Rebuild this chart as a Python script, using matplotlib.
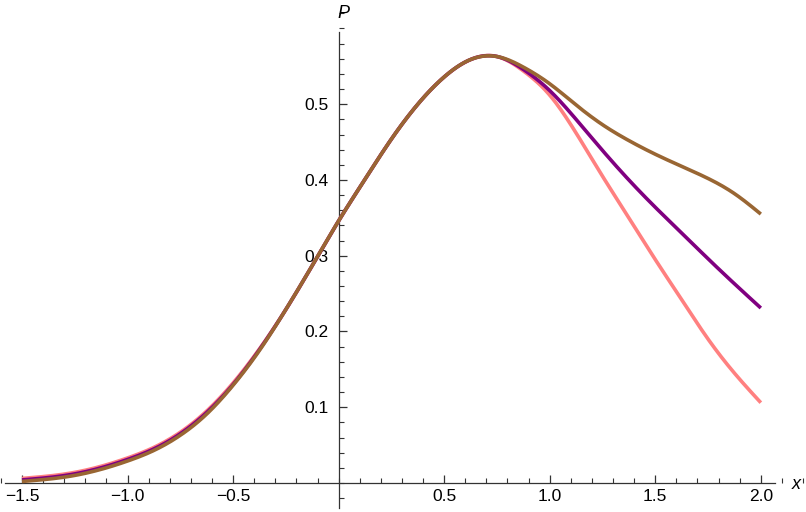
import numpy as np
import matplotlib
matplotlib.use("Agg")
import matplotlib.pyplot as plt
from matplotlib.ticker import MultipleLocator, FixedLocator

x_pts = [-1.5, -1.25, -1.0, -0.875, -0.75, -0.625, -0.5, -0.375, -0.25, -0.125, 0.0, 0.125, 0.25,
         0.375, 0.5, 0.625, 0.75, 0.875, 1.0, 1.125, 1.25, 1.375, 1.5, 1.625, 1.75, 1.875, 2.0]

p_pink = [0.006, 0.014, 0.033, 0.047, 0.067, 0.095, 0.132, 0.177, 0.229, 0.287, 0.346, 0.401, 0.454,
          0.500, 0.536, 0.559, 0.563, 0.544, 0.512, 0.462, 0.405, 0.350, 0.295, 0.242, 0.190, 0.145, 0.106]
p_purple = [0.004, 0.012, 0.031, 0.045, 0.065, 0.093, 0.130, 0.176, 0.229, 0.287, 0.346, 0.401, 0.454,
            0.500, 0.536, 0.559, 0.563, 0.546, 0.518, 0.480, 0.439, 0.400, 0.364, 0.330, 0.296, 0.263, 0.231]
p_brown = [0.002, 0.010, 0.029, 0.043, 0.063, 0.091, 0.129, 0.175, 0.229, 0.287, 0.346, 0.401, 0.454,
           0.500, 0.536, 0.559, 0.563, 0.549, 0.527, 0.499, 0.473, 0.452, 0.434, 0.418, 0.402, 0.382, 0.355]

x_ticks = [-1.5, -1.0, -0.5, 0.5, 1.0, 1.5, 2.0]
y_ticks = [0.1, 0.2, 0.3, 0.4, 0.5]


def spline(xs, ys, n=600):
    xs = np.asarray(xs, float); ys = np.asarray(ys, float)
    N = len(xs); h = np.diff(xs)
    A = np.zeros((N, N)); b = np.zeros(N)
    A[0, 0] = 1; A[-1, -1] = 1
    for i in range(1, N - 1):
        A[i, i-1] = h[i-1]; A[i, i] = 2*(h[i-1] + h[i]); A[i, i+1] = h[i]
        b[i] = 6*((ys[i+1]-ys[i])/h[i] - (ys[i]-ys[i-1])/h[i-1])
    M = np.linalg.solve(A, b)
    xx = np.linspace(xs[0], xs[-1], n)
    k = np.clip(np.searchsorted(xs, xx) - 1, 0, N - 2)
    t1 = xs[k+1] - xx; t0 = xx - xs[k]; hk = h[k]
    yy = (M[k]*t1**3 + M[k+1]*t0**3)/(6*hk) + (ys[k]/hk - M[k]*hk/6)*t1 + (ys[k+1]/hk - M[k+1]*hk/6)*t0
    return xx, yy


plt.rcParams['font.family'] = ['Liberation Sans', 'DejaVu Sans']
fig = plt.figure(figsize=(8.06, 5.12), dpi=100)
ax = fig.add_axes([0, 0, 1, 1])

for ys, col in [(p_pink, '#FF8080'), (p_purple, '#800080'), (p_brown, '#996633')]:
    xx, yy = spline(x_pts, ys)
    ax.plot(xx, yy, color=col, lw=2.6, solid_capstyle='butt', zorder=3)

ax.set_xlim(-1.604, 2.214)
ax.set_ylim(-0.0383, 0.6376)

for s in ['top', 'right']:
    ax.spines[s].set_visible(False)
ax.spines['left'].set_position(('data', 0))
ax.spines['bottom'].set_position(('data', 0))
ax.spines['left'].set_bounds(-0.033, 0.595)
ax.spines['bottom'].set_bounds(-1.58, 2.067)
for s in ['left', 'bottom']:
    ax.spines[s].set_color('#333333')
    ax.spines[s].set_linewidth(0.9)

ax.xaxis.set_major_locator(FixedLocator(x_ticks))
ax.yaxis.set_major_locator(FixedLocator(y_ticks))
ax.xaxis.set_minor_locator(MultipleLocator(0.1))
ax.yaxis.set_minor_locator(MultipleLocator(0.02))
ax.set_xticklabels([f"{v:.1f}".replace('-', '\u2212') for v in x_ticks])
ax.set_yticklabels([f"{v:.1f}" for v in y_ticks])

ax.tick_params(axis='both', which='major', direction='in', length=6, width=0.9, color='#333333',
               labelsize=12.5, labelcolor='black')
ax.tick_params(axis='both', which='minor', direction='in', length=3.5, width=0.8, color='#333333')
ax.tick_params(axis='x', which='major', pad=4)
ax.tick_params(axis='y', which='major', pad=7)

ax.text(2.17, -0.002, 'x', fontsize=13, style='italic', ha='center', va='center')
ax.text(0.022, 0.62, 'P', fontsize=13, style='italic', ha='center', va='center')

fig.savefig('out.png', dpi=100)
